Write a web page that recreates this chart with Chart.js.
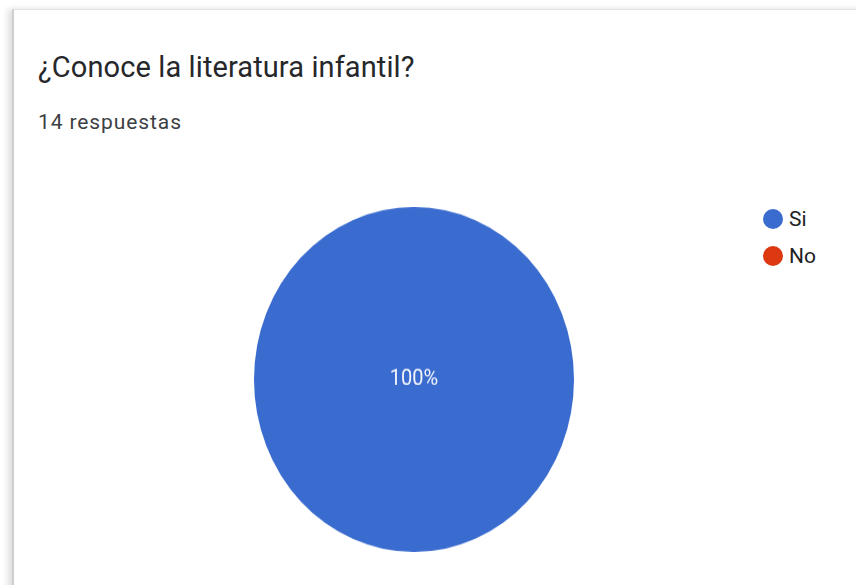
<!DOCTYPE html>
<html>
<head>
<meta charset="utf-8">
<script src="https://cdn.jsdelivr.net/npm/chart.js@4.4.1/dist/chart.umd.min.js"></script>
<style>
  html, body { margin: 0; padding: 0; background: #fff; width: 856px; height: 585px; overflow: hidden; }
  body { position: relative; font-family: Roboto, Arial, sans-serif; }
  .card {
    position: absolute; left: 12px; top: 9px; width: 900px; height: 640px;
    background: #fff; border-top: 1px solid #e2e2e2; border-left: 2px solid #cfcfcf;
    box-shadow: -4px 0 6px rgba(0,0,0,0.13);
  }
  .title { position: absolute; left: 38px; top: 50px; font-size: 29px; color: #26272a; letter-spacing: 0.1px; }
  .sub { position: absolute; left: 38px; top: 110px; font-size: 21px; color: #3c4043; letter-spacing: 0.9px; }
  .pie-wrap { position: absolute; left: 254px; top: 207px; width: 320px; height: 320px;
              transform: scaleY(1.078); transform-origin: top left; }
  .legend { position: absolute; left: 763px; top: 200px; font-size: 21px; color: #222; }
  .legend div { height: 37px; display: flex; align-items: center; }
  .legend span.dot { width: 20px; height: 20px; border-radius: 50%; margin-right: 6px; display: inline-block; }
</style>
</head>
<body>
<div class="card"></div>
<div class="title">¿Conoce la literatura infantil?</div>
<div class="sub">14 respuestas</div>
<div class="pie-wrap"><canvas id="pie"></canvas></div>
<div class="legend" id="legend"></div>
<script>
// answers
const labels = ['Si', 'No'];
const counts = [14, 0];
const colors = ['#3a6bcf', '#dc3912'];

// html legend, google forms style
document.getElementById('legend').innerHTML = labels.map((l, i) =>
  `<div><span class="dot" style="background:${colors[i]}"></span>${l}</div>`
).join('');

const pctLabels = {
  id: 'pctLabels',
  afterDatasetsDraw(chart) {
    const ctx = chart.ctx;
    const meta = chart.getDatasetMeta(0);
    const total = counts.reduce((s, v) => s + v, 0);
    ctx.save();
    ctx.fillStyle = '#f4f6fb';
    ctx.font = '20px Roboto, Arial, sans-serif';
    ctx.textAlign = 'center';
    ctx.textBaseline = 'middle';
    meta.data.forEach((arc, i) => {
      if (!counts[i]) return;
      const pct = Math.round(counts[i] / total * 1000) / 10;
      const pos = pct === 100 ? { x: arc.x, y: arc.y } : arc.tooltipPosition();
      ctx.fillText(pct + '%', pos.x, pos.y);
    });
    ctx.restore();
  }
};

new Chart(document.getElementById('pie'), {
  type: 'pie',
  data: {
    labels: labels,
    datasets: [{ data: counts, backgroundColor: colors, borderWidth: 0 }]
  },
  options: {
    responsive: true,
    maintainAspectRatio: false,
    animation: false,
    layout: { padding: 0 },
    plugins: { legend: { display: false }, tooltip: { enabled: false } }
  },
  plugins: [pctLabels]
});
</script>
</body>
</html>
